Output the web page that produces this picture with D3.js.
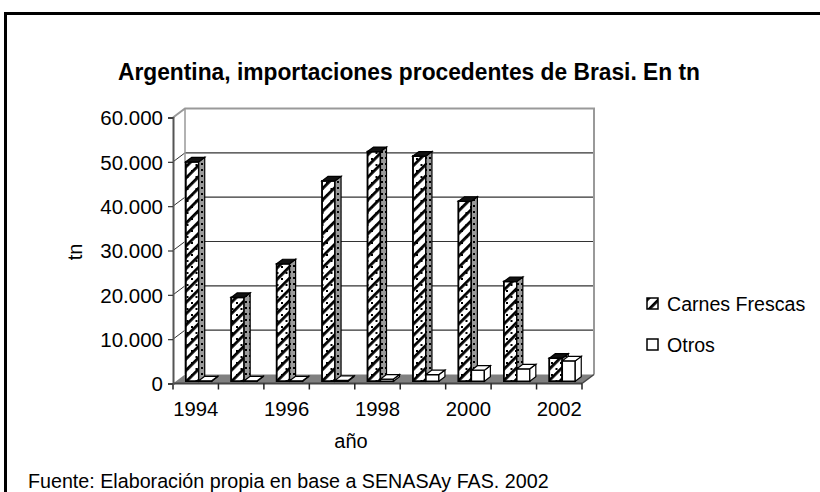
<!DOCTYPE html>
<html>
<head>
<meta charset="utf-8">
<script src="https://cdn.jsdelivr.net/npm/d3@7"></script>
<style>
  body { margin: 0; background: #fff; }
  text { font-family: "Liberation Sans", Arial, sans-serif; fill: #000; }
</style>
</head>
<body>
<div id="chart"></div>
<script>
// data
const years = [1994, 1995, 1996, 1997, 1998, 1999, 2000, 2001, 2002];
const carnesFrescas = [49500, 18900, 26500, 45200, 51800, 50800, 40600, 22500, 5200];
const otros = [100, 100, 100, 200, 500, 1500, 2500, 2800, 4600];
const seriesNames = ['Carnes Frescas', 'Otros'];
const yTickValues = [0, 10000, 20000, 30000, 40000, 50000, 60000];
const xLabelYears = [1994, 1996, 1998, 2000, 2002];

const W = 820, H = 492;

const svg = d3.select('#chart').append('svg')
    .attr('width', W)
    .attr('height', H);

// patterns
const defs = svg.append('defs');
let pFront = defs.append('pattern')
    .attr('id', 'carnesFront')
    .attr('patternUnits', 'userSpaceOnUse')
    .attr('width', 8).attr('height', 8)
    .attr('patternTransform', 'rotate(45)');
pFront.append('rect').attr('width', 8).attr('height', 8).attr('fill', '#fff');
pFront.append('rect').attr('x', 0).attr('width', 2.8).attr('height', 8).attr('fill', '#000');
let pDots = defs.append('pattern')
    .attr('id', 'carnesDots')
    .attr('patternUnits', 'userSpaceOnUse')
    .attr('width', 9).attr('height', 12);
pDots.append('rect').attr('x', 2).attr('y', 2).attr('width', 2).attr('height', 2).attr('fill', '#000');
pDots.append('rect').attr('x', 6.5).attr('y', 8).attr('width', 2).attr('height', 2).attr('fill', '#000');
let pSide = defs.append('pattern')
    .attr('id', 'carnesSide')
    .attr('patternUnits', 'userSpaceOnUse')
    .attr('width', 4).attr('height', 6);
pSide.append('rect').attr('width', 4).attr('height', 6).attr('fill', '#9a9a9a');
pSide.append('rect').attr('x', 1).attr('y', 1).attr('width', 2).attr('height', 2).attr('fill', '#000');

// scales
const x = d3.scaleBand().domain(years).range([173, 582]);
const xs = d3.scaleBand().domain(seriesNames).range([0, x.bandwidth()]).paddingOuter(0.75);
const y = d3.scaleLinear().domain([0, 60000]).range([383.5, 117.5]);

// 3d depth offset of the plot and of each bar
const dx = 12, dy = -9;
const bf = 0.25, bb = 0.75;

const fmt = d3.formatLocale({decimal: ',', thousands: '.', grouping: [3], currency: ['$', '']}).format(',');

// floor
const x0 = x.range()[0], x1 = x.range()[1];
svg.append('path')
    .attr('d', `M${x0},${y(0)}L${x1},${y(0)}L${x1 + dx},${y(0) + dy}L${x0 + dx},${y(0) + dy}Z`)
    .attr('fill', '#808080');

// back wall gridlines and side wall gridlines
yTickValues.filter(v => v > 0 && v < 60000).forEach(v => {
    svg.append('line')
        .attr('x1', x0 + dx).attr('x2', x1 + dx)
        .attr('y1', y(v) + dy).attr('y2', y(v) + dy)
        .attr('stroke', '#333').attr('stroke-width', 1.2);
    svg.append('line')
        .attr('x1', x0).attr('x2', x0 + dx)
        .attr('y1', y(v)).attr('y2', y(v) + dy)
        .attr('stroke', '#333').attr('stroke-width', 1);
});

// back wall border
svg.append('path')
    .attr('d', `M${x0},${y(60000)}L${x0 + dx},${y(60000) + dy}L${x1 + dx},${y(60000) + dy}L${x1 + dx},${y(0) + dy}`)
    .attr('fill', 'none').attr('stroke', '#999').attr('stroke-width', 2);
svg.append('line')
    .attr('x1', x0 + dx).attr('x2', x0 + dx)
    .attr('y1', y(60000) + dy).attr('y2', y(0) + dy)
    .attr('stroke', '#999').attr('stroke-width', 1.5);

// bars
function drawBar(g, left, width, value, front, side, top, stroke) {
    let fx = left + dx * bf, fy = dy * bf;
    let ddx = dx * (bb - bf), ddy = dy * (bb - bf);
    let yt = y(value) + fy, yb = y(0) + fy;
    let r = fx + width;
    // front
    g.append('rect')
        .attr('x', fx).attr('y', yt).attr('width', width).attr('height', yb - yt)
        .attr('fill', front).attr('stroke', stroke).attr('stroke-width', 1.5);
    if (front === 'url(#carnesFront)') {
        g.append('rect')
            .attr('x', fx).attr('y', yt).attr('width', width).attr('height', yb - yt)
            .attr('fill', 'url(#carnesDots)').attr('stroke', stroke).attr('stroke-width', 1.5);
    }
    // side
    g.append('path')
        .attr('d', `M${r},${yt}L${r + ddx},${yt + ddy}L${r + ddx},${yb + ddy}L${r},${yb}Z`)
        .attr('fill', side).attr('stroke', stroke).attr('stroke-width', 1.2);
    // top
    g.append('path')
        .attr('d', `M${fx},${yt}L${fx + ddx},${yt + ddy}L${r + ddx},${yt + ddy}L${r},${yt}Z`)
        .attr('fill', top).attr('stroke', stroke).attr('stroke-width', 1.2);
}

const bars = svg.append('g').attr('class', 'bars');
years.forEach((yr, i) => {
    let g = bars.append('g');
    drawBar(g, x(yr) + xs('Carnes Frescas'), xs.bandwidth(), carnesFrescas[i],
        'url(#carnesFront)', 'url(#carnesSide)', '#111', '#000');
    drawBar(g, x(yr) + xs('Otros'), xs.bandwidth(), otros[i],
        '#fff', '#fff', '#fff', '#000');
});

// floor front edge and right edge
svg.append('line')
    .attr('x1', x0).attr('x2', x1).attr('y1', y(0)).attr('y2', y(0))
    .attr('stroke', '#444').attr('stroke-width', 2);
svg.append('line')
    .attr('x1', x1).attr('x2', x1 + dx).attr('y1', y(0)).attr('y2', y(0) + dy)
    .attr('stroke', '#444').attr('stroke-width', 1.5);

// x ticks at category boundaries
svg.append('g').selectAll('line')
    .data(years.concat(['end']))
    .join('line')
    .attr('x1', d => d === 'end' ? x1 : x(d))
    .attr('x2', d => d === 'end' ? x1 : x(d))
    .attr('y1', y(0)).attr('y2', y(0) + 6)
    .attr('stroke', '#222').attr('stroke-width', 1.5);

// x labels
const xAxis = d3.axisBottom(x).tickValues(xLabelYears).tickSize(0).tickPadding(0);
const gx = svg.append('g')
    .attr('transform', `translate(0,${y(0)})`)
    .call(xAxis);
gx.select('.domain').remove();
gx.selectAll('text')
    .attr('dy', null).attr('y', 32)
    .style('font-size', '20.3px');

// y axis
const yAxis = d3.axisLeft(y).tickValues(yTickValues).tickSize(5).tickPadding(5).tickFormat(fmt);
const gy = svg.append('g')
    .attr('transform', `translate(${x0},0)`)
    .call(yAxis);
gy.select('.domain').attr('stroke', '#555').attr('stroke-width', 2);
gy.selectAll('.tick line').attr('stroke', '#333').attr('stroke-width', 1.2);
gy.selectAll('text')
    .attr('dy', '0.35em')
    .style('font-size', '20.5px');

// axis titles
svg.append('text')
    .attr('transform', 'translate(82,252) rotate(-90)')
    .attr('text-anchor', 'middle')
    .style('font-size', '20px')
    .text('tn');
svg.append('text')
    .attr('x', 351).attr('y', 448)
    .attr('text-anchor', 'middle')
    .style('font-size', '20px')
    .text('año');

// chart title
svg.append('text')
    .attr('x', 409).attr('y', 80)
    .attr('text-anchor', 'middle')
    .attr('textLength', 582)
    .attr('lengthAdjust', 'spacingAndGlyphs')
    .style('font-size', '23px')
    .style('font-weight', 'bold')
    .text('Argentina, importaciones procedentes de Brasi. En tn');

// legend
const legend = svg.append('g').attr('transform', 'translate(647,298)');
const legendFills = ['url(#carnesFront)', '#fff'];
seriesNames.forEach((name, i) => {
    let row = legend.append('g').attr('transform', `translate(0,${i * 41})`);
    row.append('rect')
        .attr('x', 0).attr('y', 0).attr('width', 11).attr('height', 11)
        .attr('fill', legendFills[i]).attr('stroke', '#000').attr('stroke-width', 1.5);
    row.append('text')
        .attr('x', 20).attr('y', 13)
        .style('font-size', '19.6px')
        .text(name);
});

// source note
svg.append('text')
    .attr('x', 28).attr('y', 488)
    .style('font-size', '19.7px')
    .text('Fuente: Elaboración propia en base a SENASAy FAS. 2002');

// outer chart border
svg.append('path')
    .attr('d', `M5.5,${H + 5}L5.5,13.5L${W + 5},13.5`)
    .attr('fill', 'none').attr('stroke', '#000').attr('stroke-width', 3);
</script>
</body>
</html>
